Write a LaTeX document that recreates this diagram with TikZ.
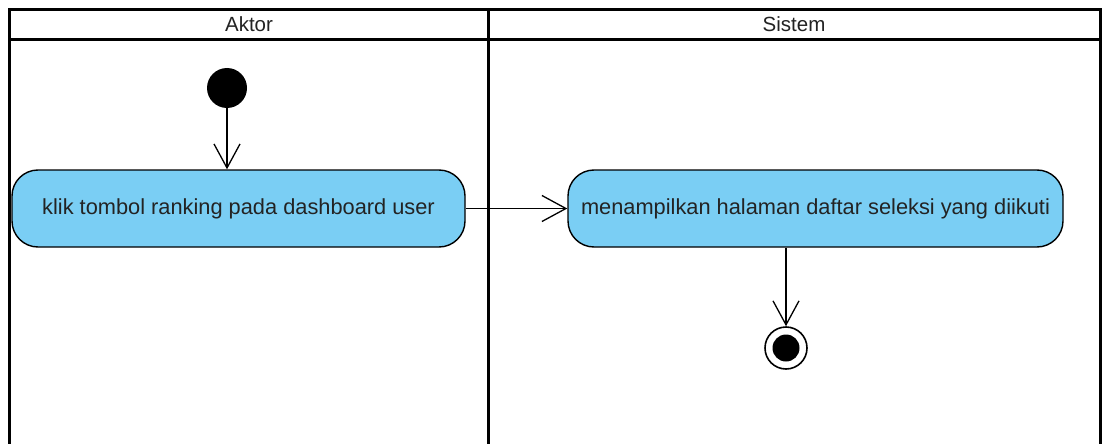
\documentclass[tikz,border=0pt]{standalone}
\usepackage{fontspec}
\setmainfont{Liberation Sans}
\usetikzlibrary{arrows.meta}
\definecolor{actfill}{RGB}{122,206,244}
\definecolor{txt}{RGB}{35,35,35}
\tikzset{
  lane/.style={line width=3pt},
  action/.style={draw=black, line width=1.4pt, fill=actfill, rounded corners=26pt,
    minimum height=77pt, inner sep=0pt, text=txt, font=\fontsize{21.8}{24}\selectfont},
  hdr/.style={text=txt, font=\fontsize{20.5}{24}\selectfont},
  flow/.style={line width=1.3pt, -{Straight Barb[length=24pt,width=26pt,line width=1.3pt]}},
  startnode/.style={circle, fill=black, minimum size=40pt, inner sep=0pt},
}
\begin{document}
\begin{tikzpicture}[x=1pt,y=-1pt]
\useasboundingbox (0,0) rectangle (1103,444);
\fill[white] (0,0) rectangle (1103,444);
% swimlanes
\draw[lane] (9.5,450) -- (9.5,9.5) -- (1100,9.5) -- (1100,450);
\draw[lane] (9.5,39.5) -- (1100,39.5);
\draw[lane] (488,9.5) -- (488,450);
\node[hdr] (aktor) at (249,24) {Aktor};
\node[hdr] (sistem) at (794,24) {Sistem};
% nodes
\node[startnode] (start) at (227,88) {};
\node[action, minimum width=453pt] (a1) at (238.5,208.5) {klik tombol ranking pada dashboard user};
\node[action, minimum width=495pt] (a2) at (815.5,208.5) {menampilkan halaman daftar seleksi yang diikuti};
\node[circle, draw=black, line width=1.6pt, minimum size=42pt, inner sep=0pt, fill=white] (final) at (786,348) {};
\node[circle, fill=black, minimum size=27pt, inner sep=0pt] (finalin) at (final.center) {};
% connectors
\draw[flow] (start) -- (start |- a1.north);
\draw[flow] (a1.east) -- (a2.west);
\draw[flow] (final |- a2.south) -- (final.north);
\end{tikzpicture}
\end{document}
